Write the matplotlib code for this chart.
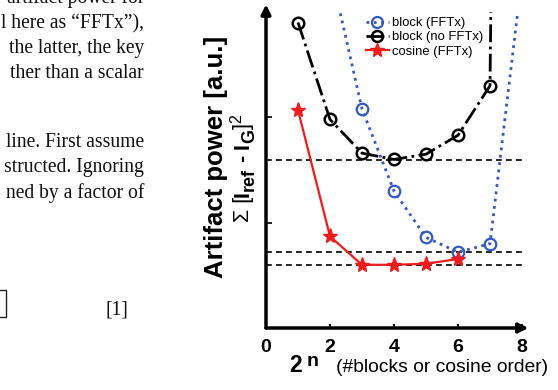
import matplotlib
matplotlib.use("Agg")
import matplotlib.pyplot as plt
from matplotlib.lines import Line2D

plt.rcParams['font.family'] = ['Liberation Sans', 'DejaVu Sans']

# ---- data ----
x_block_nofftx = [1, 2, 3, 4, 5, 6, 7, 8]
y_block_nofftx = [2.90, 1.98, 1.66, 1.60, 1.65, 1.83, 2.30, 30.0]
x_block_fftx = [2, 3, 4, 5, 6, 7, 8]
y_block_fftx = [3.42, 2.08, 1.30, 0.86, 0.72, 0.80, 3.34]
x_cosine = [1, 2, 3, 4, 5, 6]
y_cosine = [2.07, 0.87, 0.60, 0.60, 0.61, 0.655]
ref_levels = [1.595, 0.721, 0.598]
xticks = [0, 2, 4, 6, 8]
yticks = [1, 2]
legend_labels = ['block (FFTx)', 'block (no FFTx)', 'cosine (FFTx)']

paper_lines = [
    ("artifact power for", 3),
    ("l here as \u201cFFTx\u201d),", 28),
    ("the latter, the key", 53),
    ("ther than a scalar", 78),
    ("line. First assume", 147),
    ("structed. Ignoring", 172),
    ("ned by a factor of", 198),
]

W, H = 558, 390
fig = plt.figure(figsize=(W / 100, H / 100), dpi=100)

def fx(px):
    return px / W

def fy(py):
    return 1 - py / H

# ---- paper text fragments ----
for txt, base in paper_lines:
    fig.text(fx(144), fy(base), txt, ha='right', va='baseline',
             fontsize=14.1, family='Liberation Serif', color='#111111')
fig.text(fx(128), fy(314), "[1]", ha='right', va='baseline',
         fontsize=14.1, family='Liberation Serif', color='#111111')
fig.add_artist(Line2D([fx(0), fx(6), fx(6), fx(0)],
                      [fy(290), fy(290), fy(317), fy(317)],
                      color='#222222', lw=1.0, transform=fig.transFigure))

# ---- chart ----
ax = fig.add_axes([fx(266), fy(328), (522 - 266) / W, (328 - 12) / H])
ax.set_xlim(0, 8)
ax.set_ylim(0, 3)
ax.patch.set_alpha(0)

blue = '#3558c0'
red = '#ee1c1c'

ax.hlines(ref_levels, 0, 8, colors='k', linestyles=(0, (3.5, 2.5)), lw=1.2, zorder=1)

l1, = ax.plot(x_block_fftx, y_block_fftx, linestyle=':', color=blue, lw=2.0,
              marker='o', ms=8.3, mfc='none', mec=blue, mew=1.6, zorder=3)
l2, = ax.plot(x_block_nofftx, y_block_nofftx, linestyle='-.', color='k', lw=2.0,
              marker='o', ms=8.3, mfc='none', mec='k', mew=1.8, zorder=3)
l3, = ax.plot(x_cosine, y_cosine, linestyle='-', color=red, lw=1.6,
              marker='*', ms=11, mfc=red, mec=red, zorder=4)

for s in ax.spines.values():
    s.set_visible(False)

ax.annotate('', xy=(1.025, 0), xytext=(0, 0), xycoords='axes fraction',
            arrowprops=dict(arrowstyle='-|>', lw=2.5, color='k', mutation_scale=14,
                            shrinkA=0, shrinkB=0), annotation_clip=False)
ax.annotate('', xy=(0, 1.024), xytext=(0, 0), xycoords='axes fraction',
            arrowprops=dict(arrowstyle='-|>', lw=2.5, color='k', mutation_scale=14,
                            shrinkA=0, shrinkB=0), annotation_clip=False)

ax.set_xticks(xticks)
ax.set_xticklabels([str(t) for t in xticks], fontsize=14, fontweight='bold')
ax.set_yticks(yticks)
ax.set_yticklabels([])
ax.tick_params(axis='x', direction='in', length=3, width=1.5, pad=8)
ax.tick_params(axis='y', direction='in', length=4, width=1.2)

leg = ax.legend([l1, l2, l3], legend_labels, loc='upper left',
                bbox_to_anchor=((366 - 266) / 256, (328 - 17) / 316),
                frameon=False, fontsize=9.4, handlelength=1.75, handletextpad=0.25,
                labelspacing=0.16, borderpad=0, borderaxespad=0, markerscale=0.95)

# ---- axis labels ----
fig.text(fx(216), fy(157), 'Artifact power [a.u.]', rotation=90, ha='center', va='center',
         fontsize=18.5, fontweight='bold')

# second y label built from pieces, reading bottom-to-top
renderer = fig.canvas.get_renderer()
pieces = [
    ('\u03a3 [', 15.5, 'normal', 0),
    ('I', 15.5, 'bold', 0),
    ('ref', 13, 'bold', 5),
    (' - ', 15.5, 'bold', 0),
    ('I', 15.5, 'bold', 0),
    ('G', 13, 'bold', 5),
    (']', 15.5, 'normal', 0),
    ('2', 11.5, 'normal', -8),
]
base_x = 249.0
cur_y = 222.0
for txt, size, weight, shift in pieces:
    t = fig.text(fx(base_x + shift), fy(cur_y), txt, rotation=90, rotation_mode='anchor',
                 ha='left', va='baseline', fontsize=size, fontweight=weight)
    bb = t.get_window_extent(renderer)
    cur_y -= bb.height

# x label pieces
fig.text(fx(289), fy(372), '2', ha='left', va='baseline', fontsize=16.5, fontweight='bold')
fig.text(fx(307), fy(366), 'n', ha='left', va='baseline', fontsize=14, fontweight='bold')
fig.text(fx(336), fy(372), '(#blocks or cosine order)', ha='left', va='baseline',
         fontsize=13.9)

fig.savefig('out.png', dpi=100)
